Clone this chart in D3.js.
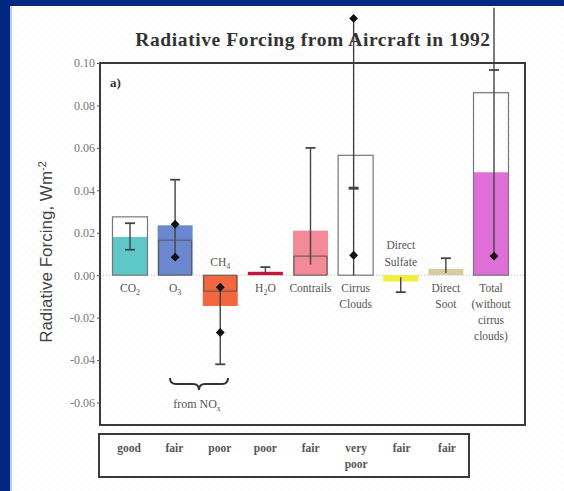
<!DOCTYPE html>
<html>
<head>
<meta charset="utf-8">
<script src="https://cdn.jsdelivr.net/npm/d3@7"></script>
<style>
  body { margin: 0; background: #00287f; }
  svg { display: block; }
</style>
</head>
<body>
<div id="chart"></div>
<script>
// values
let categories = ['CO2', 'O3', 'CH4', 'H2O', 'Contrails', 'Cirrus', 'Sulfate', 'Soot', 'Total'];
let fillValues = [0.018, 0.0235, -0.0145, 0.0016, 0.021, null, -0.003, 0.003, 0.0485];
let outerBox = [0.0275, null, null, null, null, 0.0565, null, null, 0.086];
let innerBox = [null, 0.0165, -0.0075, null, 0.009, null, null, null, null];
let errLow = [0.012, 0.0085, -0.042, 0.0008, 0.005, 0.0, -0.008, 0.001, 0.009];
let errHigh = [0.0245, 0.045, -0.0055, 0.0038, 0.060, 0.121, -0.001, 0.008, 0.126];
let caps = [[0.0245, 0.012], [0.045], [-0.042], [0.0038], [0.060], [0.041], [-0.008], [0.008], [0.0967]];
let diamonds = [[], [0.024, 0.0085], [-0.0057, -0.027], [], [], [0.121, 0.0094], [], [], [0.009]];
let colors = ['#5ec8c8', '#6b87cf', '#f2673f', '#c8143c', '#f28a98', 'none', '#f2ee3c', '#d9caa6', '#de6fd6'];
let labelsBelow = [['CO', '2'], ['O', '3'], null, ['H', '2', 'O'], ['Contrails'], ['Cirrus', 'Clouds'], null, ['Direct', 'Soot'], ['Total', '(without', 'cirrus', 'clouds)']];
let yTicks = [-0.06, -0.04, -0.02, 0.00, 0.02, 0.04, 0.06, 0.08, 0.10];
let ratings = ['good', 'fair', 'poor', 'poor', 'fair', 'very|poor', 'fair', 'fair'];

let width = 564, height = 491;
let svg = d3.select('#chart').append('svg')
  .attr('width', width)
  .attr('height', height);

// background panel with faint dots
let defs = svg.append('defs');
let pat = defs.append('pattern')
  .attr('id', 'dots')
  .attr('width', 8).attr('height', 8)
  .attr('patternUnits', 'userSpaceOnUse');
pat.append('rect').attr('width', 8).attr('height', 8).attr('fill', 'white');
pat.append('circle').attr('cx', 2).attr('cy', 3).attr('r', 0.6).attr('fill', '#e2e2e2');
pat.append('circle').attr('cx', 6).attr('cy', 7).attr('r', 0.6).attr('fill', '#e2e2e2');

svg.append('rect').attr('width', width).attr('height', height).attr('fill', '#00287f');
svg.append('rect').attr('x', 10).attr('y', 6).attr('width', width - 10).attr('height', height - 6)
  .attr('fill', '#b8cdf0');
svg.append('rect').attr('x', 12).attr('y', 6).attr('width', width - 12).attr('height', height - 6)
  .attr('fill', 'url(#dots)');

// scales
let frame = { left: 100, right: 525, top: 63, bottom: 425 };
let yScale = d3.scaleLinear()
  .domain([-0.0706, 0.1])
  .range([frame.bottom, frame.top]);
let xScale = d3.scalePoint()
  .domain(categories)
  .range([130, 491]);
let barW = 35;

// zero line
svg.append('line')
  .attr('x1', frame.left).attr('x2', frame.right)
  .attr('y1', yScale(0)).attr('y2', yScale(0))
  .attr('stroke', '#bbb')
  .attr('stroke-dasharray', '1,2');

// bars
let idx = d3.range(categories.length);
svg.selectAll('rect.fill')
  .data(idx.filter(i => fillValues[i] !== null))
  .enter()
  .append('rect')
  .attr('class', 'fill')
  .attr('x', i => xScale(categories[i]) - barW / 2)
  .attr('width', barW)
  .attr('y', i => yScale(Math.max(0, fillValues[i])))
  .attr('height', i => Math.abs(yScale(fillValues[i]) - yScale(0)))
  .attr('fill', i => colors[i]);

svg.selectAll('rect.outer')
  .data(idx.filter(i => outerBox[i] !== null))
  .enter()
  .append('rect')
  .attr('class', 'outer')
  .attr('x', i => xScale(categories[i]) - barW / 2)
  .attr('width', barW)
  .attr('y', i => yScale(outerBox[i]))
  .attr('height', i => yScale(0) - yScale(outerBox[i]))
  .attr('fill', 'none')
  .attr('stroke', '#777')
  .attr('stroke-width', 1.2);

svg.selectAll('rect.inner')
  .data(idx.filter(i => innerBox[i] !== null))
  .enter()
  .append('rect')
  .attr('class', 'inner')
  .attr('x', i => xScale(categories[i]) - barW / 2 + 1)
  .attr('width', barW - 2)
  .attr('y', i => yScale(Math.max(0, innerBox[i])))
  .attr('height', i => Math.abs(yScale(innerBox[i]) - yScale(0)))
  .attr('fill', 'none')
  .attr('stroke', '#555')
  .attr('stroke-width', 1);

// error bars
let errX = i => xScale(categories[i]) + (i === 5 ? -2 : (i === 8 ? 3 : 0));
svg.selectAll('line.err')
  .data(idx)
  .enter()
  .append('line')
  .attr('class', 'err')
  .attr('x1', errX).attr('x2', errX)
  .attr('y1', i => yScale(errLow[i]))
  .attr('y2', i => yScale(errHigh[i]))
  .attr('stroke', '#444')
  .attr('stroke-width', 1.4);

idx.forEach(i => {
  caps[i].forEach(v => {
    svg.append('line')
      .attr('x1', errX(i) - 5).attr('x2', errX(i) + 5)
      .attr('y1', yScale(v)).attr('y2', yScale(v))
      .attr('stroke', '#444')
      .attr('stroke-width', i === 5 ? 3 : 1.8);
  });
  diamonds[i].forEach(v => {
    svg.append('path')
      .attr('d', d3.symbol(d3.symbolDiamond2, 50)())
      .attr('transform', 'translate(' + errX(i) + ',' + yScale(v) + ')')
      .attr('fill', '#111');
  });
});

// frame
svg.append('rect')
  .attr('x', frame.left).attr('y', frame.top)
  .attr('width', frame.right - frame.left)
  .attr('height', frame.bottom - frame.top)
  .attr('fill', 'none')
  .attr('stroke', '#3a3a3a')
  .attr('stroke-width', 2);

let serif = '"Liberation Serif", serif';

// y axis
let yAxis = svg.append('g')
  .attr('transform', 'translate(' + frame.left + ',0)')
  .call(d3.axisLeft(yScale)
    .tickValues(yTicks)
    .tickSize(3)
    .tickPadding(2)
    .tickFormat(d => d3.format('.2f')(d).replace('\u2212', '-')));
yAxis.select('.domain').remove();
yAxis.selectAll('line').attr('stroke', '#555');
yAxis.selectAll('text')
  .style('font-family', serif)
  .style('font-size', '12px')
  .attr('fill', '#777');

svg.append('text')
  .attr('transform', 'translate(52,252) rotate(-90)')
  .style('text-anchor', 'middle')
  .style('font-family', '"Liberation Sans", Arial, sans-serif')
  .style('font-size', '17px')
  .attr('fill', '#444')
  .html('Radiative Forcing, Wm<tspan dy="-6" font-size="11px">-2</tspan>');

// title
svg.append('text')
  .attr('x', 313).attr('y', 46)
  .style('text-anchor', 'middle')
  .style('font-family', serif)
  .style('font-weight', 'bold')
  .style('font-size', '19.5px')
  .style('letter-spacing', '0.6px')
  .attr('fill', '#333')
  .text('Radiative Forcing from Aircraft in 1992');

svg.append('text')
  .attr('x', 110).attr('y', 87)
  .style('font-family', serif)
  .style('font-weight', 'bold')
  .style('font-size', '13px')
  .attr('fill', '#333')
  .text('a)');

// category labels
let labelG = svg.append('g')
  .style('font-family', serif)
  .style('font-size', '11.5px')
  .attr('fill', '#555')
  .style('text-anchor', 'middle');

idx.forEach(i => {
  let parts = labelsBelow[i];
  if (!parts) return;
  let x = xScale(categories[i]);
  if (i <= 1 || i === 3) {
    let t = labelG.append('text').attr('x', x).attr('y', 292);
    t.append('tspan').text(parts[0]);
    t.append('tspan').attr('dy', 3).attr('font-size', '8px').text(parts[1]);
    if (parts[2]) t.append('tspan').attr('dy', -3).text(parts[2]);
  } else {
    parts.forEach((p, k) => {
      labelG.append('text').attr('x', x).attr('y', 292 + k * 16).text(p);
    });
  }
});

let ch4 = labelG.append('text').attr('x', xScale('CH4')).attr('y', 266);
ch4.append('tspan').text('CH');
ch4.append('tspan').attr('dy', 3).attr('font-size', '8px').text('4');

labelG.append('text').attr('x', xScale('Sulfate')).attr('y', 249).text('Direct');
labelG.append('text').attr('x', xScale('Sulfate')).attr('y', 266).text('Sulfate');

// brace under the NOx bars
let bx0 = 170, bx1 = 228, by = 378;
let bm = (bx0 + bx1) / 2;
svg.append('path')
  .attr('d', 'M' + bx0 + ',' + by + ' q0,6 6,6 L' + (bm - 6) + ',' + (by + 6) +
    ' q6,0 6,6 q0,-6 6,-6 L' + (bx1 - 6) + ',' + (by + 6) + ' q6,0 6,-6')
  .attr('fill', 'none')
  .attr('stroke', '#333')
  .attr('stroke-width', 2);
let nox = labelG.append('text').attr('x', 197).attr('y', 408).style('font-size', '12px');
nox.append('tspan').text('from NO');
nox.append('tspan').attr('dy', 3).attr('font-size', '8px').text('x');

// rating box
svg.append('rect')
  .attr('x', 99).attr('y', 434)
  .attr('width', 370).attr('height', 43)
  .attr('fill', 'white')
  .attr('stroke', '#3a3a3a')
  .attr('stroke-width', 2);

let ratingX = d3.scalePoint()
  .domain(d3.range(ratings.length))
  .range([129, 447]);
let ratingG = svg.append('g')
  .style('font-family', serif)
  .style('font-size', '11.5px')
  .style('font-weight', 'bold')
  .attr('fill', '#555')
  .style('text-anchor', 'middle');
ratings.forEach((r, k) => {
  r.split('|').forEach((p, j) => {
    ratingG.append('text')
      .attr('x', ratingX(k))
      .attr('y', 452 + j * 16)
      .text(p);
  });
});
</script>
</body>
</html>
